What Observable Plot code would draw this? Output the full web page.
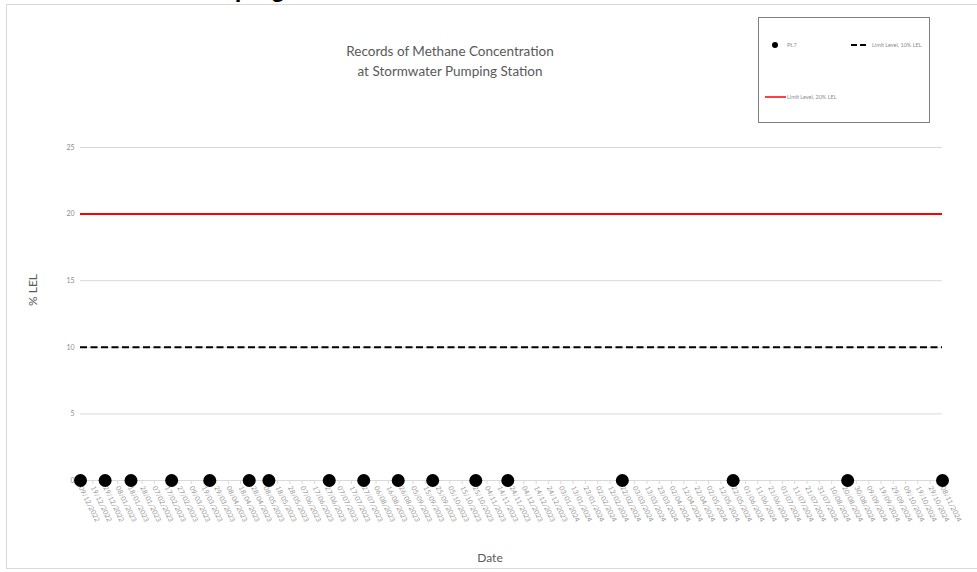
<!DOCTYPE html>
<html>
<head>
<meta charset="utf-8">
<script src="https://cdn.jsdelivr.net/npm/d3@7"></script>
<script src="https://cdn.jsdelivr.net/npm/@observablehq/plot@0.6"></script>
<style>
  html, body { margin: 0; padding: 0; background: #fff; overflow: hidden; }
  #wrap { position: relative; width: 977px; height: 572px; overflow: hidden; font-family: Lato, "Open Sans", sans-serif; }
  #frame { position: absolute; left: 6px; top: 4px; width: 990px; height: 565px; border: 1px solid #d9d9d9; box-sizing: border-box; }
  #heading { position: absolute; left: 44px; top: -25px; font: bold 24px "Liberation Sans", Arial, sans-serif; color: #000; white-space: nowrap; }
  #chart { position: absolute; left: 0; top: 0; }
  #title { position: absolute; left: 250px; width: 400px; top: 41px; text-align: center; color: #595959; font-size: 13.5px; line-height: 20px; }
  #ylab { position: absolute; left: 32px; top: 290px; transform: translate(-50%, -50%) rotate(-90deg); color: #595959; font-size: 12px; white-space: nowrap; }
  #xlab { position: absolute; left: 490px; top: 557px; transform: translate(-50%, -50%); color: #595959; font-size: 12px; }
  #legend { position: absolute; left: 758px; top: 17px; width: 172px; height: 106px; border: 1px solid #7f7f7f; box-sizing: border-box; background: #fff; }
  .lg { position: absolute; font-size: 5.5px; color: #8c8c8c; white-space: nowrap; line-height: 6px; }
</style>
</head>
<body>
<div id="wrap">
  <div id="frame"></div>
  <div id="heading">Stormwater Pumping Station</div>
  <div id="chart"></div>
  <div id="title">Records of Methane Concentration<br>at Stormwater Pumping Station</div>
  <div id="ylab">% LEL</div>
  <div id="xlab">Date</div>
  <div id="legend">
    <svg width="172" height="106" style="position:absolute;left:0;top:0">
      <circle cx="16" cy="27" r="3" fill="#000"></circle>
      <line x1="92" y1="27" x2="110" y2="27" stroke="#000" stroke-width="2" stroke-dasharray="6,3"></line>
      <line x1="6" y1="79" x2="27" y2="79" stroke="#ff0000" stroke-width="1.5"></line>
    </svg>
    <div class="lg" style="left:28px;top:24px">Pt.7</div>
    <div class="lg" style="left:113px;top:24px">Limit Level, 10% LEL</div>
    <div class="lg" style="left:28px;top:76px">Limit Level, 20% LEL</div>
  </div>
</div>
<script>
// Data
const seriesName = "Pt.7";
const dates = [
  "2022-12-09","2022-12-29","2023-01-19","2023-02-21","2023-03-24","2023-04-25",
  "2023-05-11","2023-06-29","2023-07-27","2023-08-24","2023-09-21","2023-10-26",
  "2023-11-21","2024-02-22","2024-05-22","2024-08-23","2024-11-08"
];
const values = [0,0,0,0,0,0,0,0,0,0,0,0,0,0,0,0,0];
const limit10 = 10;
const limit20 = 20;
const yTicks = [0, 5, 10, 15, 20, 25];
const xTickLabels = [
  "2022-12-09","2022-12-19","2022-12-29","2023-01-08","2023-01-18","2023-01-28","2023-02-07","2023-02-17","2023-02-27",
  "2023-03-09","2023-03-19","2023-03-29","2023-04-08","2023-04-18","2023-04-28","2023-05-08","2023-05-18","2023-05-28",
  "2023-06-07","2023-06-17","2023-06-27","2023-07-07","2023-07-17","2023-07-27","2023-08-06","2023-08-16","2023-08-26",
  "2023-09-05","2023-09-15","2023-09-25","2023-10-05","2023-10-15","2023-10-25","2023-11-04","2023-11-14","2023-11-24",
  "2023-12-04","2023-12-14","2023-12-24","2024-01-03","2024-01-13","2024-01-23","2024-02-02","2024-02-12","2024-02-22",
  "2024-03-03","2024-03-13","2024-03-23","2024-04-02","2024-04-12","2024-04-22","2024-05-02","2024-05-12","2024-05-22",
  "2024-06-01","2024-06-11","2024-06-21","2024-07-01","2024-07-11","2024-07-21","2024-07-31","2024-08-10","2024-08-20",
  "2024-08-30","2024-09-09","2024-09-19","2024-09-29","2024-10-09","2024-10-19","2024-10-29","2024-11-08"
];

const parse = d3.utcParse("%Y-%m-%d");
const data = dates.map((d, i) => ({date: parse(d), value: values[i]}));
const xTicks = xTickLabels.map(parse);

const chart = Plot.plot({
  width: 977,
  height: 572,
  marginLeft: 80,
  marginRight: 35,
  marginTop: 147,
  marginBottom: 92,
  style: {background: "transparent", fontFamily: "Lato, 'Open Sans', sans-serif"},
  x: {type: "utc", domain: [xTicks[0], xTicks[xTicks.length - 1]]},
  y: {domain: [0, 25]},
  marks: [
    Plot.gridY(yTicks.filter(d => d > 0), {stroke: "#d9d9d9", strokeOpacity: 1}),
    Plot.ruleY([0], {stroke: "#d9d9d9", strokeWidth: 1}),
    Plot.axisY(yTicks, {tickSize: 0, tickPadding: 6, fontSize: 7, color: "#8c8c8c", label: null}),
    Plot.axisX(xTicks, {
      tickFormat: d3.utcFormat("%d/%m/%Y"),
      tickRotate: 64, tickSize: 4, tickPadding: 2, fontSize: 7,
      stroke: "#d9d9d9", color: "#999999", label: null
    }),
    Plot.ruleY([limit20], {stroke: "#ff0000", strokeWidth: 2}),
    Plot.ruleY([limit10], {stroke: "#000", strokeWidth: 2, strokeDasharray: "7,3.5"}),
    Plot.dot(data, {x: "date", y: "value", r: 6.5, fill: "#000", stroke: "none"})
  ]
});
document.getElementById("chart").appendChild(chart);
</script>
</body>
</html>
